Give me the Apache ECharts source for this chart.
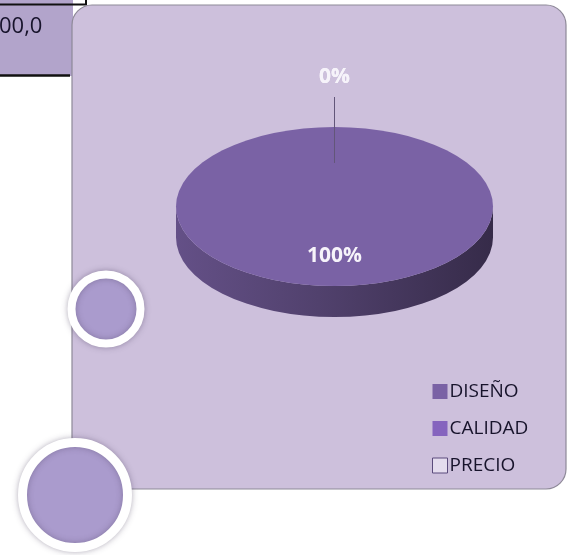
<!DOCTYPE html>
<html>
<head>
<meta charset="utf-8">
<script src="https://cdn.jsdelivr.net/npm/echarts@6/dist/echarts.min.js"></script>
<style>
  html, body { margin: 0; padding: 0; background: #ffffff; }
  #chart { width: 570px; height: 555px; }
</style>
</head>
<body>
<div id="chart"></div>
<script>
// Survey answers: share of responses per attribute
const categories = ['DISEÑO', 'CALIDAD', 'PRECIO'];
const values = [100, 0, 0];
// Neighbouring spreadsheet cell, partly visible
const cellText = '00,0';

const sliceColors = ['#7a62a5', '#8564be', '#e4dcee'];
const FONT = '"Open Sans", "Liberation Sans", sans-serif';

// Ellipse used for the tilted pie (top face) and its wall depth
const PIE = { cx: 334.5, cy: 206.5, rx: 158.5, ry: 79.5, depth: 31 };
const START = -Math.PI / 2;           // first slice starts at 12 o'clock
const total = values.reduce((s, v) => s + v, 0);

function shade(hex, f) {
  const n = parseInt(hex.slice(1), 16);
  const c = [(n >> 16) & 255, (n >> 8) & 255, n & 255].map(x => Math.round(x * f));
  return 'rgb(' + c.join(',') + ')';
}
function pt(a, dy) {
  return [PIE.cx + PIE.rx * Math.cos(a), PIE.cy + (dy || 0) + PIE.ry * Math.sin(a)];
}
function arcTo(a0, a1, dy) {
  const n = Math.max(1, Math.ceil(Math.abs(a1 - a0) / (Math.PI / 2)));
  const sweep = a1 > a0 ? 1 : 0;
  let d = '';
  for (let k = 1; k <= n; k++) {
    const p = pt(a0 + (a1 - a0) * k / n, dy);
    d += ' A ' + PIE.rx + ' ' + PIE.ry + ' 0 0 ' + sweep + ' ' + p[0] + ' ' + p[1];
  }
  return d;
}
function sliceStart(i) {
  let cum = 0;
  for (let k = 0; k < i; k++) cum += values[k];
  return START + 2 * Math.PI * cum / total;
}

function renderSlice(i, v) {
  const color = sliceColors[i];
  const a0 = sliceStart(i);
  const a1 = a0 + 2 * Math.PI * v / total;
  const children = [];

  if (a1 - a0 > 1e-9) {
    // front wall: only the part facing the viewer (lower half of the ellipse)
    [[0, Math.PI], [2 * Math.PI, 3 * Math.PI]].forEach(w => {
      const s = Math.max(a0, w[0]);
      const e = Math.min(a1, w[1]);
      if (e > s) {
        const ps = pt(s), pe = pt(e, PIE.depth);
        const d = 'M ' + ps[0] + ' ' + ps[1] + arcTo(s, e) +
          ' L ' + pe[0] + ' ' + pe[1] + arcTo(e, s, PIE.depth) + ' Z';
        children.push({
          type: 'path', z2: 1,
          shape: { pathData: d },
          style: {
            fill: {
              type: 'linear', global: true,
              x: PIE.cx - PIE.rx, y: 0, x2: PIE.cx + PIE.rx, y2: 0,
              colorStops: [
                { offset: 0, color: shade(color, 0.82) },
                { offset: 0.45, color: shade(color, 0.66) },
                { offset: 1, color: shade(color, 0.44) }
              ]
            }
          }
        });
      }
    });
    // top face
    const p0 = pt(a0);
    const full = a1 - a0 >= 2 * Math.PI - 1e-9;
    const d = full
      ? 'M ' + p0[0] + ' ' + p0[1] + arcTo(a0, a1) + ' Z'
      : 'M ' + PIE.cx + ' ' + PIE.cy + ' L ' + p0[0] + ' ' + p0[1] + arcTo(a0, a1) + ' Z';
    children.push({ type: 'path', z2: 5, shape: { pathData: d }, style: { fill: color } });
  }

  const pct = Math.round(v / total * 100) + '%';
  const mid = (a0 + a1) / 2;
  if (v > 0) {
    children.push({
      type: 'text', z2: 10,
      x: PIE.cx + PIE.rx * 0.62 * Math.cos(mid),
      y: PIE.cy + PIE.ry * 0.62 * Math.sin(mid),
      style: {
        text: pct, fill: '#f6f3fa', fontFamily: FONT, fontSize: 21, fontWeight: 'bold',
        align: 'center', verticalAlign: 'middle'
      }
    });
  } else {
    // empty slice: label outside with a leader line
    const c = Math.cos(mid), s = Math.sin(mid);
    children.push({
      type: 'line', z2: 8,
      shape: {
        x1: PIE.cx + PIE.rx * 0.55 * c, y1: PIE.cy + PIE.ry * 0.55 * s,
        x2: PIE.cx + (PIE.rx + 30) * c, y2: PIE.cy + (PIE.ry + 30) * s
      },
      style: { stroke: '#625679', lineWidth: 1 }
    });
    children.push({
      type: 'text', z2: 10,
      x: PIE.cx + (PIE.rx + 50) * c,
      y: PIE.cy + (PIE.ry + 50) * s,
      style: {
        text: pct, fill: '#f6f3fa', fontFamily: FONT, fontSize: 21, fontWeight: 'bold',
        align: 'center', verticalAlign: 'middle'
      }
    });
  }
  return { type: 'group', children };
}

const chart = echarts.init(document.getElementById('chart'), null, { renderer: 'canvas' });
chart.setOption({
  animation: false,
  backgroundColor: '#ffffff',
  graphic: [
    // spreadsheet cell behind the chart
    { type: 'rect', shape: { x: 0, y: 0, width: 73, height: 76 }, style: { fill: '#b2a4cb' } },
    { type: 'line', shape: { x1: 0, y1: 4.5, x2: 87, y2: 4.5 }, style: { stroke: '#111', lineWidth: 2 } },
    { type: 'line', shape: { x1: 86, y1: 0, x2: 86, y2: 5 }, style: { stroke: '#111', lineWidth: 2 } },
    { type: 'line', shape: { x1: 0, y1: 75.5, x2: 70, y2: 75.5 }, style: { stroke: '#111', lineWidth: 2.5 } },
    { type: 'text', x: -1, y: 27, style: { text: cellText, fill: '#17132b', fontFamily: FONT, fontSize: 22, verticalAlign: 'middle' } },
    // chart area
    {
      type: 'rect', shape: { x: 72, y: 5, width: 494, height: 484, r: 20 },
      style: { fill: '#cdc0dc', stroke: '#8e8998', lineWidth: 1.2 }
    },
    // decorative rings
    {
      type: 'circle', shape: { cx: 106, cy: 309, r: 34.5 },
      style: { fill: '#aa9bcd', stroke: '#ffffff', lineWidth: 8, shadowBlur: 6, shadowColor: 'rgba(60,50,80,0.35)' }
    },
    {
      type: 'circle', shape: { cx: 75, cy: 495, r: 52.5 },
      style: { fill: '#aa9bcd', stroke: '#ffffff', lineWidth: 9, shadowBlur: 6, shadowColor: 'rgba(60,50,80,0.35)' }
    }
  ],
  legend: {
    orient: 'vertical', left: 427, top: 377,
    icon: 'rect', itemWidth: 15, itemHeight: 15, itemGap: 18,
    textStyle: { fontFamily: FONT, fontSize: 19, color: '#17132b', padding: [0, 0, 0, -3] },
    data: categories.map((name, i) => ({
      name,
      itemStyle: i === 2
        ? { color: sliceColors[i], borderColor: '#5b4b7c', borderWidth: 1 }
        : { color: sliceColors[i] }
    }))
  },
  series: categories.map((name, i) => ({
    type: 'custom', name, coordinateSystem: 'none',
    itemStyle: { color: sliceColors[i] },
    data: [[values[i]]],
    renderItem: (params, api) => renderSlice(i, api.value(0))
  }))
});
</script>
</body>
</html>
